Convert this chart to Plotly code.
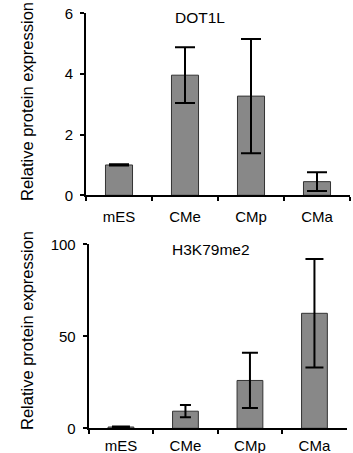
import plotly.graph_objects as go

categories = ["mES", "CMe", "CMp", "CMa"]
dot1l_values = [1.0, 3.96, 3.27, 0.45]
dot1l_errors = [0.02, 0.92, 1.88, 0.31]
h3k_values = [0.7, 9.3, 26.0, 62.5]
h3k_errors = [0.3, 3.3, 15.0, 29.5]
h3k_capwidth = [9, 5.5, 8, 9]
dot1l_ticks = [0, 2, 4, 6]
h3k_ticks = [0, 50, 100]
titles = ["DOT1L", "H3K79me2"]
ytitle = "Relative protein expression"

W, H = 353, 453
FONT = "Liberation Sans, Arial, sans-serif"
BAR = "#888888"
EDGE = "#333333"

def px(x):
    return x / W

def py(y):
    return 1 - y / H

fig = go.Figure()

fig.add_trace(go.Bar(
    x=categories, y=dot1l_values, width=0.41,
    marker=dict(color=BAR, line=dict(color=EDGE, width=1)),
    error_y=dict(type="data", array=dot1l_errors, color="black", thickness=2, width=10),
    xaxis="x", yaxis="y", showlegend=False,
))

for c, v, e, w in zip(categories, h3k_values, h3k_errors, h3k_capwidth):
    fig.add_trace(go.Bar(
        x=[c], y=[v], width=0.40,
        marker=dict(color=BAR, line=dict(color=EDGE, width=1)),
        error_y=dict(type="data", array=[e], color="black", thickness=2, width=w),
        xaxis="x2", yaxis="y2", showlegend=False,
    ))

axis_common = dict(
    showgrid=False, zeroline=False, showline=True, linecolor="black", linewidth=2,
    ticks="outside", ticklen=4, tickwidth=1.5, tickcolor="black", automargin=False,
    tickfont=dict(family=FONT, size=15, color="black"),
)

fig.update_layout(
    template="none",
    width=W, height=H,
    margin=dict(l=0, r=0, t=0, b=0, pad=0),
    paper_bgcolor="white", plot_bgcolor="white",
    barmode="overlay",
    font=dict(family=FONT, color="black"),
    xaxis=dict(domain=[px(86), px(350)], anchor="y", type="category",
               categoryorder="array", categoryarray=categories,
               tickson="boundaries", ticklabelstandoff=7, **axis_common),
    yaxis=dict(domain=[py(195.3), py(13.3)], anchor="x", range=[0, 6],
               tickvals=dot1l_ticks, ticklabelstandoff=4, **axis_common),
    xaxis2=dict(domain=[px(88.7), px(346.7)], anchor="y2", type="category",
                categoryorder="array", categoryarray=categories,
                tickson="boundaries", ticklabelstandoff=3, **axis_common),
    yaxis2=dict(domain=[py(428.3), py(244.3)], anchor="x2", range=[0, 100],
                tickvals=h3k_ticks, ticklabelstandoff=4, **axis_common),
    annotations=[
        dict(text=titles[0], x=px(200), y=py(17.5), xref="paper", yref="paper",
             xanchor="center", yanchor="middle",
             showarrow=False, font=dict(family=FONT, size=15.5, color="black")),
        dict(text=titles[1], x=px(211), y=py(249), xref="paper", yref="paper",
             xanchor="center", yanchor="middle",
             showarrow=False, font=dict(family=FONT, size=15.5, color="black")),
        dict(text=ytitle, x=px(27), y=py(102), xref="paper", yref="paper",
             xanchor="center", yanchor="middle",
             textangle=-90, showarrow=False, font=dict(family=FONT, size=16.5, color="black")),
        dict(text=ytitle, x=px(27), y=py(331), xref="paper", yref="paper",
             xanchor="center", yanchor="middle",
             textangle=-90, showarrow=False, font=dict(family=FONT, size=16.5, color="black")),
    ],
)

fig.write_html("out.html")
